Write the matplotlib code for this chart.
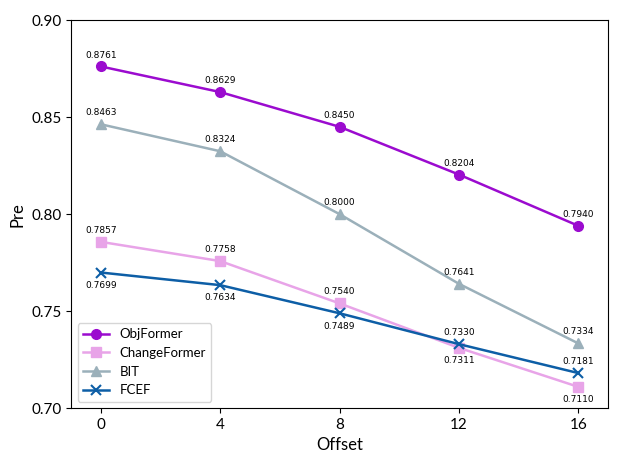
import numpy as np
import matplotlib.pyplot as plt

offsets = [0, 4, 8, 12, 16]
objformer = [0.8761, 0.8629, 0.8450, 0.8204, 0.7940]
changeformer = [0.7857, 0.7758, 0.7540, 0.7311, 0.7110]
bit = [0.8463, 0.8324, 0.8000, 0.7641, 0.7334]
fcef = [0.7699, 0.7634, 0.7489, 0.7330, 0.7181]

# label position: 1 above, -1 below
cf_pos = [1, 1, 1, -1, -1]
fcef_pos = [-1, -1, -1, 1, 1]

lab_font = ['Lato', 'DejaVu Sans']

fig, ax = plt.subplots(figsize=(6.23, 4.67), dpi=100)
fig.subplots_adjust(left=0.114, right=0.976, top=0.957, bottom=0.126)

series = [
    ('ObjFormer', objformer, '#9B0BCF', 'o', [1]*5),
    ('ChangeFormer', changeformer, '#E8A4E8', 's', cf_pos),
    ('BIT', bit, '#9BB0BA', '^', [1]*5),
    ('FCEF', fcef, '#0D5EA6', 'x', fcef_pos),
]

for name, vals, col, mk, pos in series:
    ax.plot(offsets, vals, color=col, marker=mk, markersize=7, linewidth=1.8,
            markeredgewidth=1.5 if mk == 'x' else 1, label=name)
    for x, y, p in zip(offsets, vals, pos):
        ax.annotate('%.4f' % y, xy=(x, y), xytext=(0, 5 if p > 0 else -6),
                    textcoords='offset points', ha='center',
                    va='bottom' if p > 0 else 'top', fontsize=6.5)

ax.set_xlim(-1, 17)
ax.set_ylim(0.70, 0.90)
ax.set_xticks(offsets)
ax.set_yticks([0.70, 0.75, 0.80, 0.85, 0.90])
ax.set_yticklabels(['0.70', '0.75', '0.80', '0.85', '0.90'])
for t in ax.get_xticklabels() + ax.get_yticklabels():
    t.set_family(lab_font)
    t.set_fontsize(11)
ax.set_xlabel('Offset', family=lab_font, fontsize=12)
ax.set_ylabel('Pre', family=lab_font, fontsize=12)

ax.legend(loc='lower left', prop={'family': lab_font, 'size': 9.5})

fig.savefig('out.png', dpi=100)
